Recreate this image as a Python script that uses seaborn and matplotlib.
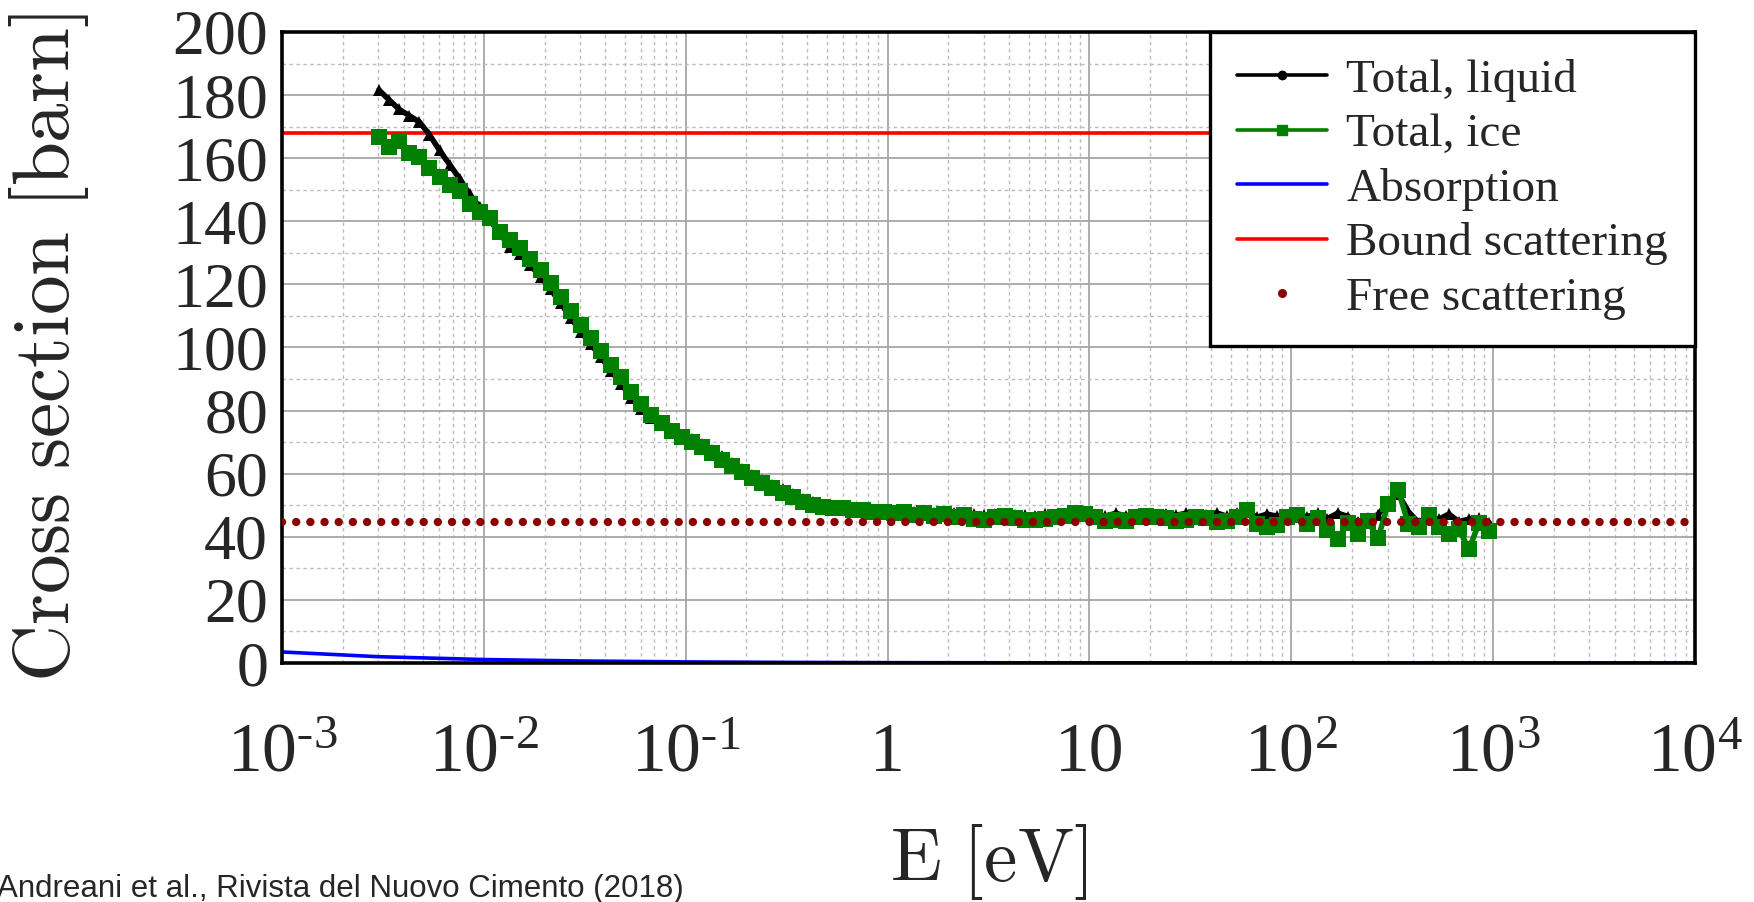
import numpy as np
import pandas as pd
import matplotlib
matplotlib.use("Agg")
import matplotlib.pyplot as plt
from matplotlib.ticker import MultipleLocator, LogLocator, FixedLocator, FixedFormatter, NullFormatter
from matplotlib.lines import Line2D
import seaborn as sns

# Neutron energy grid [eV]
energy = [
    0.00302, 0.00339, 0.00380, 0.00427, 0.00479, 0.00537, 0.00603, 0.00676, 0.00759, 0.00851, 0.00955,
    0.0107, 0.0120, 0.0135, 0.0151, 0.0170, 0.0191, 0.0214, 0.0240, 0.0269, 0.0302,
    0.0339, 0.0380, 0.0427, 0.0479, 0.0537, 0.0603, 0.0676, 0.0759, 0.0851, 0.0955,
    0.107, 0.120, 0.135, 0.151, 0.170, 0.191, 0.214, 0.240, 0.269, 0.302,
    0.339, 0.380, 0.427, 0.479, 0.537, 0.603, 0.676, 0.759, 0.851, 0.955,
    1.07, 1.20, 1.35, 1.51, 1.70, 1.91, 2.14, 2.40, 2.69, 3.02,
    3.39, 3.80, 4.27, 4.79, 5.37, 6.03, 6.76, 7.59, 8.51, 9.55,
    10.7, 12.0, 13.5, 15.1, 17.0, 19.1, 21.4, 24.0, 26.9, 30.2,
    33.9, 38.0, 42.7, 47.9, 53.7, 60.3, 67.6, 75.9, 85.1, 95.5,
    107, 120, 135, 151, 170, 191, 214, 240, 269, 302,
    339, 380, 427, 479, 537, 603, 676, 759, 851, 955,
]

# Total cross section of liquid water [barn]
sigma_liquid = [
    181.6, 178.5, 175.5, 173.5, 171.5, 167.5, 162.5, 158.0, 153.5, 148.5, 144.5,
    140.5, 136.0, 132.0, 129.5, 126.0, 122.5, 118.5, 114.0, 109.5, 105.0,
    101.0, 97.0, 92.5, 88.5, 84.0, 80.5, 77.5, 75.5, 73.8, 72.2,
    71.0, 69.5, 67.5, 65.5, 63.5, 61.5, 59.5, 58.0, 56.5, 55.0,
    53.5, 52.0, 51.0, 50.0, 49.5, 49.3, 49.0, 48.8, 48.5, 48.5,
    48.2, 48.0, 47.8, 47.6, 47.5, 47.3, 47.4, 47.1, 47.2, 46.9,
    47.1, 46.8, 47.0, 46.9, 46.7, 47.2, 46.8, 46.9, 47.3, 47.0,
    46.9, 46.6, 47.4, 46.7, 46.8, 47.0, 46.6, 47.3, 46.8, 47.5,
    46.7, 46.9, 47.6, 46.5, 47.4, 48.0, 46.2, 47.2, 46.5, 46.8,
    47.2, 46.3, 47.6, 45.8, 47.5, 46.4, 44.8, 46.0, 47.0, 51.0,
    53.5, 48.0, 44.5, 46.5, 45.5, 47.2, 44.8, 45.6, 46.0, 44.5,
]

# Total cross section of ice [barn]
sigma_ice = [
    166.8, 163.5, 165.5, 161.5, 160.5, 157.0, 154.0, 151.5, 149.5, 145.5, 143.0,
    141.0, 136.5, 134.0, 131.5, 128.0, 124.5, 120.5, 116.0, 111.5, 107.0,
    103.0, 99.0, 94.5, 90.5, 86.0, 82.0, 78.5, 76.0, 73.5, 71.5,
    70.0, 68.5, 66.5, 64.5, 62.5, 60.5, 58.5, 57.0, 55.5, 54.0,
    52.5, 51.0, 50.0, 49.5, 49.0, 49.0, 48.5, 48.5, 48.0, 48.0,
    47.5, 47.8, 47.0, 47.4, 46.6, 47.1, 46.4, 46.9, 45.8, 45.3,
    46.2, 46.6, 46.0, 45.4, 45.3, 45.6, 46.3, 46.5, 47.4, 47.2,
    46.4, 45.0, 45.3, 45.1, 46.3, 46.6, 46.2, 46.0, 45.0, 45.4,
    46.4, 45.9, 44.6, 45.0, 46.2, 48.5, 44.0, 43.2, 43.8, 46.3,
    46.9, 44.0, 45.9, 42.0, 39.2, 44.5, 41.0, 45.0, 39.5, 50.5,
    54.8, 44.0, 43.2, 47.0, 43.0, 41.0, 42.5, 36.0, 44.4, 41.8,
]

# Absorption cross section [barn]
energy_abs = [0.001, 0.003, 0.01, 0.03, 0.1, 0.3, 1.0, 10.0, 100.0, 1000.0, 10000.0]
sigma_abs = [3.5, 2.0, 1.1, 0.64, 0.35, 0.2, 0.11, 0.035, 0.011, 0.0035, 0.0011]

# Constant scattering levels [barn]
energy_range = [0.001, 10000.0]
sigma_bound = [168.0, 168.0]
sigma_free = [44.7, 44.7]

x_tick_values = [1e-3, 1e-2, 1e-1, 1, 10, 1e2, 1e3, 1e4]
x_tick_labels = [r"$\mathregular{10^{\text{-}3}}$", r"$\mathregular{10^{\text{-}2}}$",
                 r"$\mathregular{10^{\text{-}1}}$", "1", "10", r"$\mathregular{10^{2}}$",
                 r"$\mathregular{10^{3}}$", r"$\mathregular{10^{4}}$"]
y_ticks = [0, 20, 40, 60, 80, 100, 120, 140, 160, 180, 200]

series_labels = ["Total, liquid", "Total, ice", "Absorption", "Bound scattering", "Free scattering"]

sns.set_theme(style="white")
plt.rcParams.update({
    "font.family": ["Liberation Serif", "DejaVu Serif"],
    "mathtext.fontset": "cm",
    "axes.edgecolor": "black",
    "axes.linewidth": 2.6,
})

fig = plt.figure(figsize=(17.54, 9.02), dpi=100)
ax = fig.add_axes([282 / 1754, 1 - 663 / 902, 1413 / 1754, 631 / 902])
ax.set_xscale("log")
ax.set_xlim(1e-3, 1e4)
ax.set_ylim(0, 200)

# Grid: solid at major ticks, dashed at minor ticks
ax.set_axisbelow(True)
ax.yaxis.set_major_locator(FixedLocator(y_ticks))
ax.yaxis.set_minor_locator(MultipleLocator(10))
ax.xaxis.set_major_locator(FixedLocator(x_tick_values))
ax.xaxis.set_minor_locator(LogLocator(base=10, subs=np.arange(2, 10), numticks=20))
ax.xaxis.set_major_formatter(FixedFormatter(x_tick_labels))
ax.xaxis.set_minor_formatter(NullFormatter())
ax.grid(which="major", color="#a6a6a6", lw=1.3, ls="-")
ax.grid(which="minor", color="#bcbcbc", lw=1.0, ls=(0, (2.5, 2.5)))

sns.lineplot(x=energy_abs, y=sigma_abs, ax=ax, color="blue", lw=2.6, zorder=2)
sns.lineplot(x=energy_range, y=sigma_bound, ax=ax, color="red", lw=2.6, zorder=2)
sns.lineplot(x=energy, y=sigma_liquid, ax=ax, color="black", lw=4.0, marker="^",
             markersize=9, markeredgewidth=0, zorder=3)
sns.lineplot(x=energy, y=sigma_ice, ax=ax, color="green", lw=4.0, marker="s",
             markersize=11, markeredgewidth=0, zorder=4)
sns.lineplot(x=energy_range, y=sigma_free, ax=ax, color="#8b0000", lw=6.0,
             linestyle=(0, (0.01, 1.69)), dash_capstyle="round", zorder=5)

# Ticks and labels
ax.tick_params(axis="both", which="both", length=0)
ax.tick_params(axis="y", labelsize=46, pad=10)
ax.tick_params(axis="x", labelsize=50, pad=78)
for lab in ax.get_xticklabels():
    lab.set_verticalalignment("baseline")

ax.set_ylabel(r"$\mathrm{Cross\ section\ [barn]}$", fontsize=57)
ax.yaxis.set_label_coords(-0.135, 0.5)
ax.set_xlabel(r"$\mathrm{E\ [eV]}$", fontsize=54)
ax.xaxis.set_label_coords(0.5, -0.252)

for side in ["top", "right", "bottom", "left"]:
    ax.spines[side].set_visible(True)
    ax.spines[side].set_color("black")
    ax.spines[side].set_linewidth(2.6)

handles = [
    Line2D([], [], color="black", lw=2.6, marker="o", markersize=6),
    Line2D([], [], color="green", lw=2.6, marker="s", markersize=7),
    Line2D([], [], color="blue", lw=2.6),
    Line2D([], [], color="red", lw=2.6),
    Line2D([], [], color="#8b0000", ls="none", marker="o", markersize=5.5),
]
leg = ax.legend(handles, series_labels, loc="upper right", borderaxespad=0,
                fontsize=34, frameon=True, fancybox=False, framealpha=1,
                edgecolor="black", handlelength=1.9, handletextpad=0.42,
                borderpad=0.57, labelspacing=0.24)
leg.get_frame().set_linewidth(2.4)
leg.set_zorder(10)

fig.text(-3 / 1754, 5 / 902, "Andreani et al., Rivista del Nuovo Cimento (2018)",
         fontsize=22.5, family=["Liberation Sans", "DejaVu Sans"], ha="left", va="baseline")

fig.savefig("out.png", dpi=100)
